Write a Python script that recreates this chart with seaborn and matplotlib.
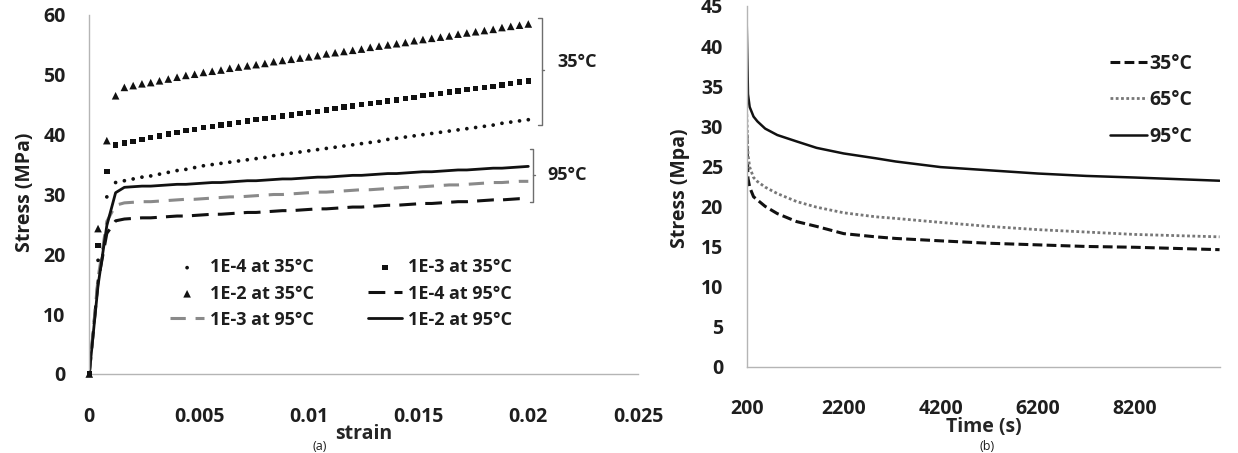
import pandas as pd
import seaborn as sns
import matplotlib.pyplot as plt

# ---------- (a) strain-stress ----------
strain = [
    0.0000, 0.0004, 0.0008, 0.0012, 0.0016, 0.0020, 0.0024, 0.0028, 0.0032, 0.0036,
    0.0040, 0.0044, 0.0048, 0.0052, 0.0056, 0.0060, 0.0064, 0.0068, 0.0072, 0.0076,
    0.0080, 0.0084, 0.0088, 0.0092, 0.0096, 0.0100, 0.0104, 0.0108, 0.0112, 0.0116,
    0.0120, 0.0124, 0.0128, 0.0132, 0.0136, 0.0140, 0.0144, 0.0148, 0.0152, 0.0156,
    0.0160, 0.0164, 0.0168, 0.0172, 0.0176, 0.0180, 0.0184, 0.0188, 0.0192, 0.0196,
    0.0200,
]
s_1e4_35 = [
    0, 19.0, 29.6, 32.0, 32.3, 32.6, 32.9, 33.1, 33.4, 33.7,
    34.0, 34.2, 34.5, 34.8, 35.0, 35.2, 35.4, 35.6, 35.8, 36.0,
    36.2, 36.5, 36.7, 36.9, 37.1, 37.3, 37.5, 37.7, 37.9, 38.1,
    38.3, 38.5, 38.7, 38.9, 39.2, 39.4, 39.6, 39.8, 40.0, 40.2,
    40.4, 40.6, 40.8, 41.0, 41.2, 41.4, 41.6, 41.9, 42.1, 42.3,
    42.5,
]
s_1e3_35 = [
    0, 21.5, 33.8, 38.3, 38.6, 38.9, 39.2, 39.5, 39.8, 40.1,
    40.4, 40.7, 40.9, 41.2, 41.4, 41.6, 41.8, 42.0, 42.3, 42.5,
    42.7, 42.9, 43.1, 43.3, 43.5, 43.7, 43.9, 44.1, 44.4, 44.6,
    44.8, 45.0, 45.2, 45.4, 45.6, 45.8, 46.0, 46.2, 46.5, 46.7,
    46.9, 47.1, 47.3, 47.5, 47.7, 47.9, 48.1, 48.3, 48.6, 48.8,
    49.0,
]
s_1e2_35 = [
    0, 24.3, 39.0, 46.5, 47.9, 48.2, 48.5, 48.7, 49.0, 49.3,
    49.6, 49.9, 50.1, 50.4, 50.6, 50.8, 51.1, 51.3, 51.5, 51.7,
    51.9, 52.2, 52.4, 52.6, 52.8, 53.0, 53.2, 53.5, 53.7, 53.9,
    54.1, 54.3, 54.6, 54.8, 55.0, 55.2, 55.4, 55.7, 55.9, 56.1,
    56.3, 56.5, 56.8, 57.0, 57.2, 57.4, 57.6, 57.9, 58.1, 58.3,
    58.5,
]
s_1e4_95 = [
    0, 15.5, 23.5, 25.6, 25.9, 26.0, 26.1, 26.1, 26.2, 26.3,
    26.4, 26.4, 26.5, 26.6, 26.7, 26.7, 26.8, 26.9, 27.0, 27.0,
    27.1, 27.2, 27.3, 27.3, 27.4, 27.5, 27.6, 27.6, 27.7, 27.8,
    27.9, 27.9, 28.0, 28.1, 28.2, 28.2, 28.3, 28.4, 28.5, 28.5,
    28.6, 28.7, 28.8, 28.8, 28.9, 29.0, 29.1, 29.1, 29.2, 29.3,
    29.3,
]
s_1e3_95 = [
    0, 16.0, 25.5, 28.2, 28.6, 28.7, 28.8, 28.8, 28.9, 29.0,
    29.1, 29.2, 29.2, 29.3, 29.4, 29.5, 29.6, 29.6, 29.7, 29.8,
    29.9, 30.0, 30.0, 30.1, 30.2, 30.3, 30.4, 30.4, 30.5, 30.6,
    30.7, 30.8, 30.8, 30.9, 31.0, 31.1, 31.2, 31.2, 31.3, 31.4,
    31.5, 31.6, 31.6, 31.7, 31.8, 31.9, 32.0, 32.0, 32.1, 32.2,
    32.2,
]
s_1e2_95 = [
    0, 14.8, 24.8, 30.3, 31.2, 31.3, 31.4, 31.4, 31.5, 31.6,
    31.7, 31.7, 31.8, 31.9, 32.0, 32.0, 32.1, 32.2, 32.3, 32.3,
    32.4, 32.5, 32.6, 32.6, 32.7, 32.8, 32.9, 32.9, 33.0, 33.1,
    33.2, 33.2, 33.3, 33.4, 33.5, 33.5, 33.6, 33.7, 33.8, 33.8,
    33.9, 34.0, 34.1, 34.1, 34.2, 34.3, 34.4, 34.4, 34.5, 34.6,
    34.7,
]
strain_ticks = [0, 0.005, 0.01, 0.015, 0.02, 0.025]
strain_labels = ["0", "0.005", "0.01", "0.015", "0.02", "0.025"]

# ---------- (b) relaxation ----------
time_s = [200, 225, 260, 340, 420, 580, 830, 1230, 1640, 2200,
          2860, 3270, 4200, 5200, 6200, 7200, 8200, 9950]
r_35 = [29.0, 23.5, 22.4, 21.2, 20.8, 20.0, 19.1, 18.1, 17.5, 16.6,
        16.2, 16.0, 15.7, 15.4, 15.2, 15.0, 14.9, 14.6]
r_65 = [31.5, 26.5, 24.9, 23.6, 23.1, 22.4, 21.6, 20.6, 19.9, 19.2,
        18.7, 18.5, 18.0, 17.5, 17.1, 16.8, 16.5, 16.2]
r_95 = [42.5, 34.0, 32.4, 31.2, 30.6, 29.7, 28.9, 28.1, 27.3, 26.6,
        26.0, 25.6, 24.9, 24.5, 24.1, 23.8, 23.6, 23.2]
time_ticks = [200, 2200, 4200, 6200, 8200]

sns.set_style("white")
plt.rcParams["font.family"] = ["Open Sans", "DejaVu Sans"]
plt.rcParams["font.weight"] = "bold"
plt.rcParams["text.color"] = "#1e1e1e"

AX_GRAY = "#b5b5b5"
TXT = "#1e1e1e"
FS = 14

fig = plt.figure(figsize=(12.38, 4.53), dpi=100)
ax1 = fig.add_axes([0.0721, 0.1744, 0.4433, 0.7925])
ax2 = fig.add_axes([0.6032, 0.1905, 0.3823, 0.7963])

df_a = pd.DataFrame({
    "strain": strain,
    "1E-4 at 35°C": s_1e4_35, "1E-3 at 35°C": s_1e3_35, "1E-2 at 35°C": s_1e2_35,
    "1E-4 at 95°C": s_1e4_95, "1E-3 at 95°C": s_1e3_95, "1E-2 at 95°C": s_1e2_95,
})

# lines (95 C)
line_styles = {
    "1E-4 at 95°C": dict(color="#111111", linestyle=(0, (5.5, 3)), linewidth=2.2),
    "1E-3 at 95°C": dict(color="#8a8a8a", linestyle=(0, (5, 3.2)), linewidth=2.2),
    "1E-2 at 95°C": dict(color="#111111", linestyle="-", linewidth=2.0),
}
for name, st in line_styles.items():
    sns.lineplot(data=df_a, x="strain", y=name, ax=ax1, label=name,
                 errorbar=None, sort=False, legend=False, **st)

# markers (35 C)
marker_styles = {
    "1E-4 at 35°C": dict(marker="o", s=7),
    "1E-3 at 35°C": dict(marker="s", s=15),
    "1E-2 at 35°C": dict(marker="^", s=30),
}
for name, st in marker_styles.items():
    sns.scatterplot(data=df_a, x="strain", y=name, ax=ax1, label=name,
                    color="#111111", edgecolor="none", linewidth=0,
                    clip_on=False, legend=False, zorder=3, **st)

ax1.set_xlim(0, 0.025)
ax1.set_ylim(0, 60)
ax1.set_xticks(strain_ticks, strain_labels)
ax1.set_yticks(range(0, 61, 10))
ax1.set_xlabel("strain", fontsize=FS, fontweight="bold", labelpad=-2)
ax1.set_ylabel("")

h, l = ax1.get_legend_handles_labels()
hm = dict(zip(l, h))
order = ["1E-4 at 35°C", "1E-2 at 35°C", "1E-3 at 95°C",
         "1E-3 at 35°C", "1E-4 at 95°C", "1E-2 at 95°C"]
ax1.legend([hm[k] for k in order], order, ncol=2, loc="upper left",
           bbox_to_anchor=(0.147, 0.322), frameon=False, borderpad=0,
           borderaxespad=0, handlelength=1.9, handletextpad=0.3,
           columnspacing=3.0, labelspacing=0.45,
           prop={"size": 13, "weight": "bold"})

# temperature brackets
br = dict(color="#6e6e6e", linewidth=1.0, clip_on=False)
ax1.plot([0.02045, 0.02061, 0.02061, 0.02045], [59.45, 59.45, 41.6, 41.6], **br)
ax1.plot([0.02061, 0.02072], [50.8, 50.8], **br)
ax1.plot([0.02007, 0.02020, 0.02020, 0.02007], [37.6, 37.6, 28.8, 28.8], **br)
ax1.plot([0.02020, 0.02030], [33.3, 33.3], **br)
ax1.text(0.02131, 52.2, "35°C", fontsize=13, fontweight="bold", va="center", ha="left")
ax1.text(0.02085, 33.3, "95°C", fontsize=13, fontweight="bold", va="center", ha="left")

# ---------- (b) ----------
df_b = pd.DataFrame({"time": time_s, "35°C": r_35, "65°C": r_65, "95°C": r_95})
rel_styles = {
    "35°C": dict(color="#111111", linestyle=(0, (3.2, 1.4)), linewidth=2.2),
    "65°C": dict(color="#777777", linestyle=(0, (1, 0.9)), linewidth=2.0),
    "95°C": dict(color="#111111", linestyle="-", linewidth=1.8),
}
for name, st in rel_styles.items():
    sns.lineplot(data=df_b, x="time", y=name, ax=ax2, label=name,
                 errorbar=None, sort=False, legend=False, **st)

ax2.set_xlim(200, 9960)
ax2.set_ylim(0, 45)
ax2.set_xticks(time_ticks, [str(t) for t in time_ticks])
ax2.set_yticks(range(0, 46, 5))
ax2.set_xlabel("Time (s)", fontsize=FS, fontweight="bold", labelpad=-2)
ax2.set_ylabel("")
ax2.legend(loc="upper left", bbox_to_anchor=(0.768, 0.868), frameon=False,
           borderpad=0, borderaxespad=0, handlelength=1.9, handletextpad=0.1,
           labelspacing=0.85, prop={"size": 14, "weight": "bold"})

for ax in (ax1, ax2):
    sns.despine(ax=ax)
    for sp in ("left", "bottom"):
        ax.spines[sp].set_color(AX_GRAY)
        ax.spines[sp].set_linewidth(1.0)
    ax.tick_params(axis="both", colors=AX_GRAY, labelcolor=TXT, labelsize=FS, width=1)
    ax.tick_params(axis="x", length=4.5, pad=19)
    ax.tick_params(axis="y", length=6, pad=11)
    for t in ax.get_xticklabels() + ax.get_yticklabels():
        t.set_fontweight("bold")

fig.text(25 / 1238, 1 - 192 / 453, "Stress (MPa)", rotation=90, ha="center",
         va="center", fontsize=FS, fontweight="bold")
fig.text(680 / 1238, 1 - 188 / 453, "Stress (Mpa)", rotation=90, ha="center",
         va="center", fontsize=FS, fontweight="bold")
fig.text(320 / 1238, 1 - 446 / 453, "(a)", ha="center", va="center", fontsize=9,
         fontweight="normal")
fig.text(987 / 1238, 1 - 446 / 453, "(b)", ha="center", va="center", fontsize=9,
         fontweight="normal")

plt.savefig("out.png", dpi=100)
plt.close()
